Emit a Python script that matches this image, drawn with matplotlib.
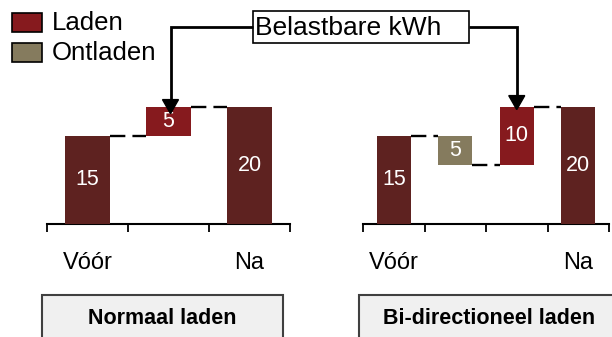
import matplotlib
matplotlib.use("Agg")
import matplotlib.pyplot as plt
from matplotlib.patches import Rectangle, Polygon

plt.rcParams['font.family'] = ['Liberation Sans', 'DejaVu Sans']

# Waterfall data (kWh)
normaal_labels = ["Vóór", "", "Na"]
normaal_values = [15, 5, 20]
normaal_kinds = ["total", "laden", "total"]

bidir_labels = ["Vóór", "", "", "Na"]
bidir_values = [15, -5, 10, 20]
bidir_kinds = ["total", "ontladen", "laden", "total"]

panel_titles = ["Normaal laden", "Bi-directioneel laden"]
legend_labels = ["Laden", "Ontladen"]
callout_text = "Belastbare kWh"

COL_TOTAL = "#5e2220"
COL_LADEN = "#861a1e"
COL_ONTLADEN = "#857b5e"
COLORS = {"total": COL_TOTAL, "laden": COL_LADEN, "ontladen": COL_ONTLADEN}

W, H = 612, 337
fig = plt.figure(figsize=(W / 100, H / 100), dpi=100)

YMAX = 38.0
BASE_PX = 224  # baseline from top, pixels


def px_axes(x0, x1, y_top, y_bot):
    return [x0 / W, (H - y_bot) / H, (x1 - x0) / W, (y_bot - y_top) / H]


def waterfall(ax, labels, values, kinds):
    n = len(values)
    level = 0.0
    bottoms, heights, levels_after = [], [], []
    for v, k in zip(values, kinds):
        if k == "total":
            b, h = 0.0, v
            level = v
        else:
            b, h = level, v
            level = level + v
        bottoms.append(b)
        heights.append(h)
        levels_after.append(level)
    width = 0.55
    for i in range(n):
        ax.bar(i, heights[i], bottom=bottoms[i], width=width,
               color=COLORS[kinds[i]], zorder=3)
        lab = abs(values[i])
        ax.text(i, bottoms[i] + heights[i] / 2, f"{lab:g}", ha="center",
                va="center", color="white", fontsize=15.5, zorder=4)
    # dashed connectors between consecutive bars
    for i in range(n - 1):
        y = levels_after[i]
        ax.plot([i + width / 2, i + 1 - width / 2], [y, y], color="black",
                lw=1.7, dashes=(6.5, 3), zorder=2, solid_capstyle="butt")
    ax.set_xlim(-0.5, n - 0.5)
    ax.set_ylim(0, YMAX)
    for s in ["top", "left", "right"]:
        ax.spines[s].set_visible(False)
    ax.spines["bottom"].set_linewidth(1.5)
    ax.set_yticks([])
    ax.set_xticks([i - 0.5 for i in range(n + 1)])
    ax.set_xticklabels([])
    ax.tick_params(axis="x", direction="out", length=6, width=1.3)
    for i, lab in enumerate(labels):
        if lab:
            ax.text(i, -6.7, lab, ha="center", va="center", fontsize=17)
    ax.patch.set_alpha(0)
    return bottoms, heights


ax1 = fig.add_axes(px_axes(47, 290, BASE_PX - YMAX * 5.87, BASE_PX))
ax2 = fig.add_axes(px_axes(363, 609, BASE_PX - YMAX * 5.87, BASE_PX))
b1, h1 = waterfall(ax1, normaal_labels, normaal_values, normaal_kinds)
b2, h2 = waterfall(ax2, bidir_labels, bidir_values, bidir_kinds)

# Overlay in pixel coordinates for legend, callout and panel captions
ov = fig.add_axes([0, 0, 1, 1], zorder=10)
ov.set_xlim(0, W)
ov.set_ylim(H, 0)
ov.axis("off")
ov.patch.set_alpha(0)

for j, (lab, col) in enumerate(zip(legend_labels, [COL_LADEN, COL_ONTLADEN])):
    y0 = 13 + 30 * j
    ov.add_patch(Rectangle((12, y0), 30, 19, facecolor=col, edgecolor="black", lw=1.2))
    ov.text(52, y0 + 10, lab, ha="left", va="center", fontsize=18.5)

# callout box
bx0, bx1, by0, by1 = 253, 469, 11, 43
ov.add_patch(Rectangle((bx0, by0), bx1 - bx0, by1 - by0, facecolor="white",
                       edgecolor="black", lw=1.2))
ov.text(bx0 + 2, (by0 + by1) / 2 + 1, callout_text, ha="left", va="center", fontsize=19)


def to_px(ax, x, y):
    d = ax.transData.transform((x, y))
    return ov.transData.inverted().transform(d)


def elbow_arrow(x_start, y_start, tip):
    tx, ty = tip
    head_len, head_w = 14, 8
    ov.plot([x_start, tx, tx], [y_start, y_start, ty - head_len], color="black",
            lw=2, solid_joinstyle="miter", solid_capstyle="butt")
    ov.add_patch(Polygon([[tx - head_w, ty - head_len], [tx + head_w, ty - head_len],
                          [tx, ty]], closed=True, facecolor="black", edgecolor="black"))


ymid = 27
# arrow to the charging step in each panel
i1 = normaal_kinds.index("laden")
tip1 = to_px(ax1, i1, b1[i1] + h1[i1])
elbow_arrow(bx0, ymid, (tip1[0] + 2, tip1[1] + 7))
i2 = bidir_kinds.index("laden")
tip2 = to_px(ax2, i2, b2[i2] + h2[i2])
elbow_arrow(bx1, ymid, (tip2[0], tip2[1] + 3))

# panel captions
for (x0, x1), title in zip([(42, 283), (359, 620)], panel_titles):
    ov.add_patch(Rectangle((x0, 295), x1 - x0, 60, facecolor="#f0f0f0",
                           edgecolor="#404040", lw=1.5, clip_on=False))
    ov.text((x0 + x1) / 2, 318, title, ha="center", va="center",
            fontsize=15.5, fontweight="bold")

fig.savefig("out.png", dpi=100)
